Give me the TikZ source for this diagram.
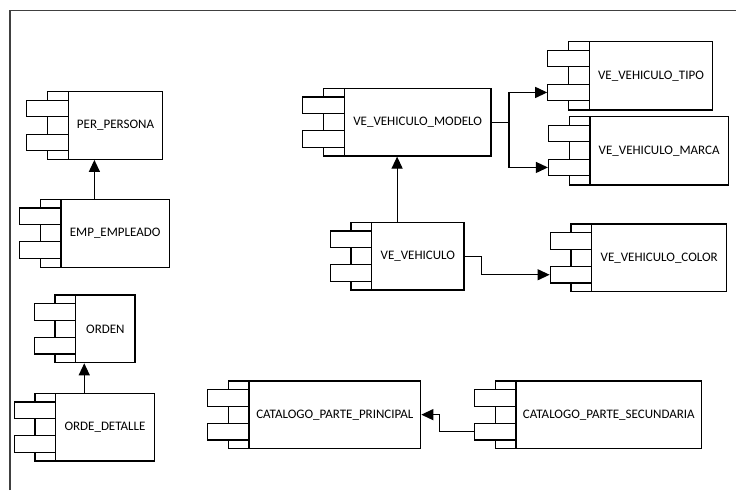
\documentclass[tikz,border=0pt]{standalone}
\usepackage{fontspec}
\setmainfont{Carlito}
\usetikzlibrary{arrows.meta}
\tikzset{
  ln/.style={line width=1.2pt, draw=black},
  mainbox/.style={ln, fill=white, inner sep=0pt, rectangle, font=\fontsize{13}{15}\selectfont},
  portbox/.style={ln, fill=white, inner sep=0pt, rectangle, minimum width=41.5pt, minimum height=16.5pt},
  strip/.style={ln, fill=white},
  arr/.style={ln, -{Triangle[length=12pt,width=11pt]}},
  frameln/.style={line width=1.2pt, draw=black!75},
}
\newcommand\comp[6]{%
  \draw[strip] ({#2-20.7},#3) rectangle (#2,#5);
  \node[portbox] (#1-p1) at ({#2-20.75},{#3+16.85}) {};
  \node[portbox] (#1-p2) at ({#2-20.75},{#3+50.75}) {};
  \node[mainbox, minimum width={#4-#2}, minimum height={#5-#3}] (#1) at ({(#2+#4)/2},{(#3+#5)/2}) {#6};
  \coordinate (#1-top) at ({(#2-41.5+#4)/2},#3);
}
\begin{document}
\begin{tikzpicture}[x=1pt,y=-1pt]
\useasboundingbox (0,0) rectangle (736,490);
\coordinate (fa) at (10,490);
\coordinate (fb) at (10,10.5);
\coordinate (fc) at (736,10.5);
\draw[frameln] (fa) -- (fb) -- (fc);

\comp{per}{68.3}{91.7}{162.7}{159.3}{PER\_PERSONA}
\comp{emp}{61}{199.3}{169.3}{267.3}{EMP\_EMPLEADO}
\comp{orden}{75.7}{295}{135}{362.7}{ORDEN}
\comp{det}{55.7}{393.3}{154.3}{461}{ORDE\_DETALLE}
\comp{modelo}{344.3}{88.3}{491}{156}{VE\_VEHICULO\_MODELO}
\comp{tipo}{589.3}{41.7}{712.7}{110}{VE\_VEHICULO\_TIPO}
\comp{marca}{590}{116.7}{728.3}{185}{VE\_VEHICULO\_MARCA}
\comp{veh}{371.7}{222.3}{464}{290}{VE\_VEHICULO}
\comp{color}{591.7}{224}{726.7}{291.7}{VE\_VEHICULO\_COLOR}
\comp{prin}{249}{381}{420.7}{448.3}{CATALOGO\_PARTE\_PRINCIPAL}
\comp{sec}{516}{381}{701.7}{448.3}{CATALOGO\_PARTE\_SECUNDARIA}

\draw[arr] (emp-top) -- (emp-top |- per.south);
\draw[arr] (det-top) -- (det-top |- orden.south);
\draw[arr] (veh-top) -- (veh-top |- modelo.south);
\draw[arr] (modelo.east) -- ++(17.3,0) |- (tipo-p2.west);
\draw[arr] (modelo.east) -- ++(17.3,0) |- (marca-p2.west);
\draw[arr] (veh.east) -- ++(17,0) |- (color-p2.west);
\draw[arr] (sec-p2.west) -- ++(-34.4,0) |- (prin.east);
\end{tikzpicture}
\end{document}
